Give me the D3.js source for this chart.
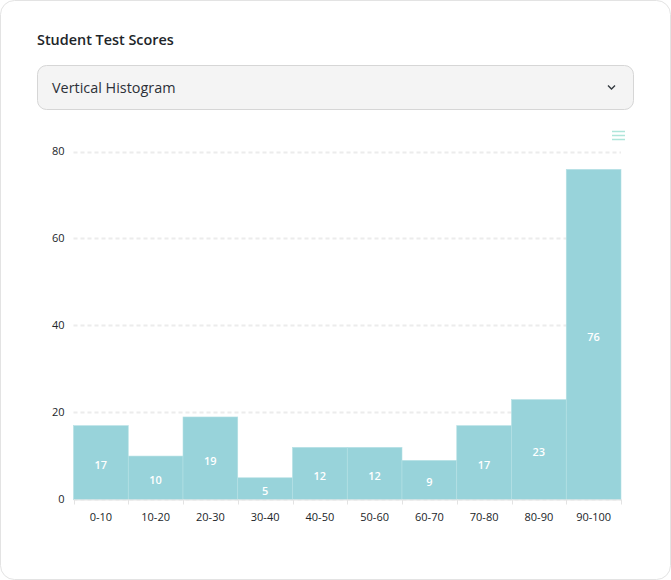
<!DOCTYPE html>
<html>
<head>
<meta charset="utf-8">
<script src="https://cdn.jsdelivr.net/npm/d3@7.9.0/dist/d3.min.js"></script>
<style>
  html, body { margin: 0; padding: 0; background: #fff; overflow: hidden; }
  text { font-family: "Open Sans", sans-serif; }
</style>
</head>
<body>
<div id="vis"></div>
<script>
const categories = ["0-10", "10-20", "20-30", "30-40", "40-50", "50-60", "60-70", "70-80", "80-90", "90-100"];
const scores = [17, 10, 19, 5, 12, 12, 9, 17, 23, 76];
const yTicks = [0, 20, 40, 60, 80];

const width = 671;
const height = 580;
const margin = { top: 152, right: 50, bottom: 80.5, left: 73.5 };

const xScale = d3
  .scaleBand()
  .domain(categories)
  .range([margin.left, width - margin.right])
  .padding(0);
const yScale = d3
  .scaleLinear()
  .domain([0, 80])
  .range([height - margin.bottom, margin.top]);

const svg = d3
  .select("#vis")
  .append("svg")
  .attr("width", width)
  .attr("height", height)
  .style("display", "block");

// Card
svg
  .append("rect")
  .attr("x", 0.5)
  .attr("y", 0.5)
  .attr("width", width - 1)
  .attr("height", height - 1)
  .attr("rx", 14)
  .attr("fill", "#fff")
  .attr("stroke", "#e3e3e3");

svg
  .append("text")
  .attr("x", 37)
  .attr("y", 45)
  .attr("font-size", 14.4)
  .attr("font-weight", 600)
  .attr("fill", "#212529")
  .text("Student Test Scores");

// Dropdown
svg
  .append("rect")
  .attr("x", 37.5)
  .attr("y", 65.5)
  .attr("width", 596)
  .attr("height", 44)
  .attr("rx", 9)
  .attr("fill", "#f4f4f4")
  .attr("stroke", "#d6d6d6");

svg
  .append("text")
  .attr("x", 52)
  .attr("y", 93)
  .attr("font-size", 14.4)
  .attr("fill", "#2c3038")
  .text("Vertical Histogram");

svg
  .append("path")
  .attr("d", "M608 85.5L611.5 89L615 85.5")
  .attr("fill", "none")
  .attr("stroke", "#343a40")
  .attr("stroke-width", 1.4);

// Menu icon
svg
  .append("g")
  .selectAll("line")
  .data([131.5, 135.5, 139.5])
  .enter()
  .append("line")
  .attr("x1", 612)
  .attr("x2", 625)
  .attr("y1", (d) => d)
  .attr("y2", (d) => d)
  .attr("stroke", "#aee5da")
  .attr("stroke-width", 1.5);

// Draw gridlines
svg
  .append("g")
  .selectAll("line")
  .data(yTicks)
  .enter()
  .append("line")
  .attr("x1", margin.left)
  .attr("x2", width - margin.right)
  .attr("y1", (d) => Math.floor(yScale(d)) + 0.5)
  .attr("y2", (d) => Math.floor(yScale(d)) + 0.5)
  .attr("stroke", "#ececec")
  .attr("stroke-width", 2)
  .attr("stroke-dasharray", "4 3");

// Bars
svg
  .append("g")
  .selectAll("rect")
  .data(scores)
  .enter()
  .append("rect")
  .attr("x", (d, i) => xScale(categories[i]))
  .attr("y", (d) => yScale(d))
  .attr("width", xScale.bandwidth())
  .attr("height", (d) => yScale(0) - yScale(d))
  .attr("fill", "#98d3da")
  .attr("stroke", "#b5e0e4")
  .attr("stroke-width", 0.6);

// Bar labels
svg
  .append("g")
  .selectAll("text")
  .data(scores)
  .enter()
  .append("text")
  .attr("x", (d, i) => xScale(categories[i]) + xScale.bandwidth() / 2)
  .attr("y", (d) => (yScale(d) + yScale(0)) / 2 + 6.5)
  .attr("text-anchor", "middle")
  .attr("font-size", 11)
  .attr("font-weight", 600)
  .attr("fill", "#fff")
  .text((d) => d);

// Draw axes
const xAxis = svg
  .append("g")
  .attr("transform", `translate(0,${Math.floor(yScale(0)) + 0.5})`)
  .call(d3.axisBottom(xScale).tickSize(0).tickPadding(14));
xAxis.select(".domain").attr("stroke", "#e3e3e3");
xAxis.selectAll("text").attr("font-size", 11).attr("font-family", '"Open Sans", sans-serif').attr("fill", "#212529");

svg
  .append("g")
  .selectAll("line")
  .data(d3.range(categories.length + 1))
  .enter()
  .append("line")
  .attr("x1", (d) => Math.round(margin.left + d * xScale.step()) + 0.5)
  .attr("x2", (d) => Math.round(margin.left + d * xScale.step()) + 0.5)
  .attr("y1", yScale(0))
  .attr("y2", yScale(0) + 5)
  .attr("stroke", "#e3e3e3");

const yAxis = svg
  .append("g")
  .attr("transform", `translate(${margin.left},-1)`)
  .call(d3.axisLeft(yScale).tickValues(yTicks).tickSize(0).tickPadding(9));
yAxis.select(".domain").remove();
yAxis.selectAll("text").attr("font-size", 11).attr("font-family", '"Open Sans", sans-serif').attr("fill", "#212529");
</script>
</body>
</html>
